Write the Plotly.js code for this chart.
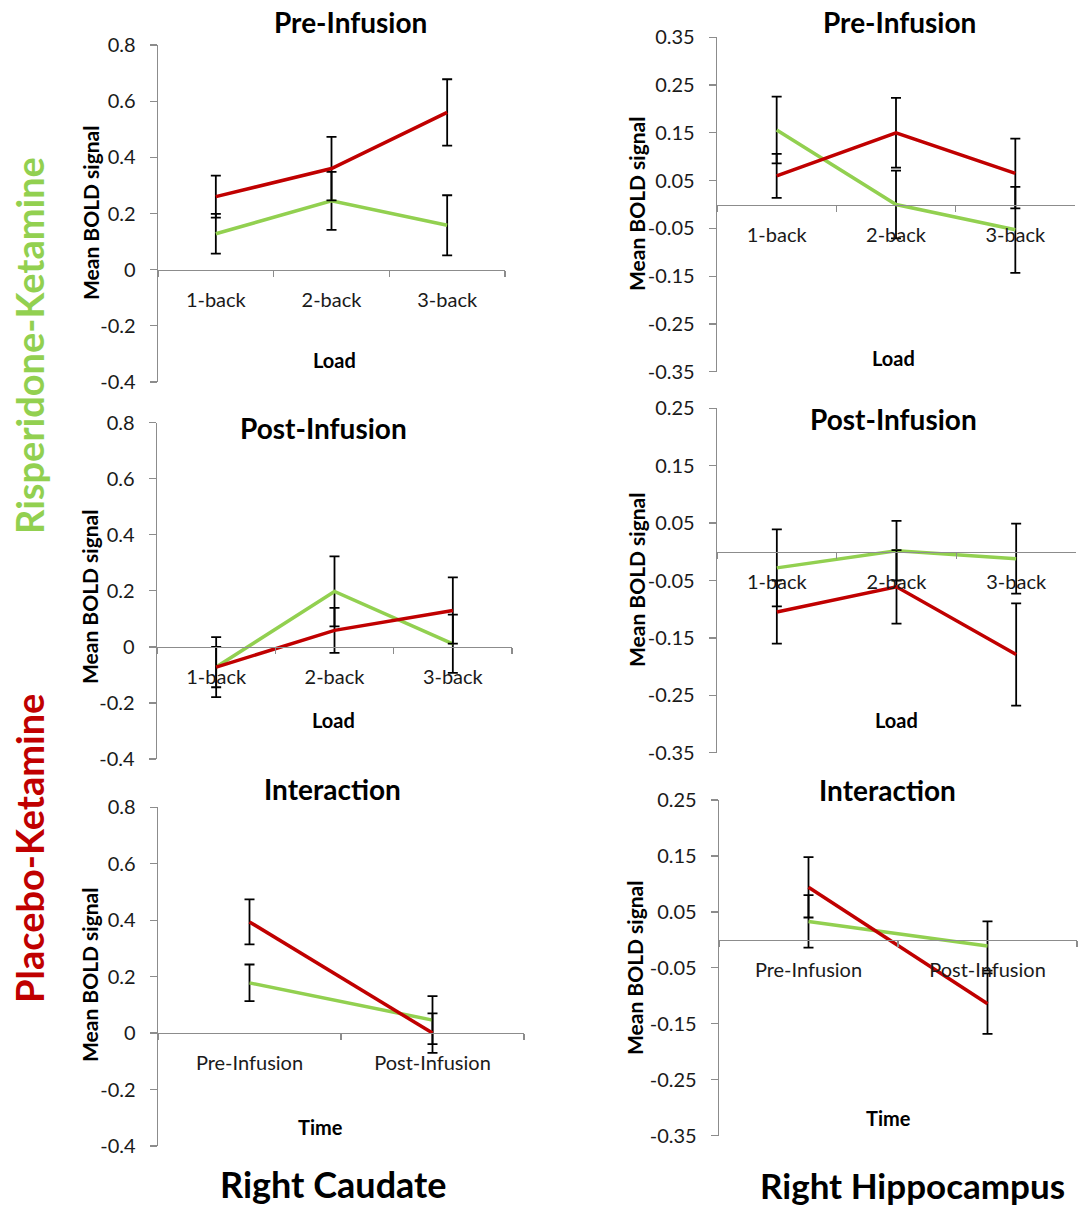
<!DOCTYPE html>
<html>
<head>
<meta charset="utf-8">
<script src="https://cdn.plot.ly/plotly-3.0.1.min.js"></script>
<style>html,body{margin:0;padding:0;background:#fff;}#chart{width:1081px;height:1209px;}</style>
</head>
<body>
<div id="chart"></div>
<script>
// ---- data ----
const loads = ['1-back', '2-back', '3-back'];
const times = ['Pre-Infusion', 'Post-Infusion'];

const caudPreRed = [0.26, 0.36, 0.56];
const caudPreRedErr = [0.075, 0.113, 0.118];
const caudPreGreen = [0.128, 0.245, 0.158];
const caudPreGreenErr = [0.071, 0.103, 0.107];

const hippPreRed = [0.060, 0.150, 0.065];
const hippPreRedErr = [0.046, 0.073, 0.073];
const hippPreGreen = [0.156, 0.0, -0.053];
const hippPreGreenErr = [0.070, 0.071, 0.090];

const caudPostRed = [-0.072, 0.059, 0.13];
const caudPostRedErr = [0.072, 0.080, 0.118];
const caudPostGreen = [-0.072, 0.198, 0.011];
const caudPostGreenErr = [0.107, 0.125, 0.104];

const hippPostRed = [-0.105, -0.061, -0.179];
const hippPostRedErr = [0.055, 0.064, 0.089];
const hippPostGreen = [-0.028, 0.002, -0.012];
const hippPostGreenErr = [0.067, 0.052, 0.061];

const caudIntRed = [0.394, 0.0];
const caudIntRedErr = [0.080, 0.070];
const caudIntGreen = [0.178, 0.046];
const caudIntGreenErr = [0.065, 0.085];

const hippIntRed = [0.094, -0.114];
const hippIntRedErr = [0.054, 0.054];
const hippIntGreen = [0.033, -0.011];
const hippIntGreenErr = [0.047, 0.044];

const caudTicks = [-0.4, -0.2, 0, 0.2, 0.4, 0.6, 0.8];
const caudTickText = ['-0.4', '-0.2', '0', '0.2', '0.4', '0.6', '0.8'];
const hippTicks1 = [-0.35, -0.25, -0.15, -0.05, 0.05, 0.15, 0.25, 0.35];
const hippTickText1 = ['-0.35', '-0.25', '-0.15', '-0.05', '0.05', '0.15', '0.25', '0.35'];
const hippTicks2 = [-0.35, -0.25, -0.15, -0.05, 0.05, 0.15, 0.25];
const hippTickText2 = ['-0.35', '-0.25', '-0.15', '-0.05', '0.05', '0.15', '0.25'];

// ---- styling / layout ----
const W = 1081, H = 1209;
const RED = '#C00000', GREEN = '#92D050', AX = '#8C8C8C';
const FONT = 'Lato, "Open Sans", sans-serif';

const panels = [
  {cats: loads, red: caudPreRed, redE: caudPreRedErr, green: caudPreGreen, greenE: caudPreGreenErr,
   box: [158, 505, 45, 382], range: [-0.4, 0.8], tv: caudTicks, tt: caudTickText,
   title: 'Pre-Infusion', tpos: [350, 22], xt: 'Load', xtpos: [334, 360], ytpos: [90, 213]},
  {cats: loads, red: hippPreRed, redE: hippPreRedErr, green: hippPreGreen, greenE: hippPreGreenErr,
   box: [717, 1075, 37.3, 371.7], range: [-0.35, 0.35], tv: hippTicks1, tt: hippTickText1,
   title: 'Pre-Infusion', tpos: [899, 22], xt: 'Load', xtpos: [893, 358], ytpos: [636, 204]},
  {cats: loads, red: caudPostRed, redE: caudPostRedErr, green: caudPostGreen, greenE: caudPostGreenErr,
   box: [157, 512, 422.7, 759], range: [-0.4, 0.8], tv: caudTicks, tt: caudTickText,
   title: 'Post-Infusion', tpos: [323, 428], xt: 'Load', xtpos: [333, 720], ytpos: [89, 597]},
  {cats: loads, red: hippPostRed, redE: hippPostRedErr, green: hippPostGreen, greenE: hippPostGreenErr,
   box: [717, 1076, 408.3, 752.7], range: [-0.35, 0.25], tv: hippTicks2, tt: hippTickText2,
   title: 'Post-Infusion', tpos: [893, 419], xt: 'Load', xtpos: [896, 720], ytpos: [636, 580]},
  {cats: times, red: caudIntRed, redE: caudIntRedErr, green: caudIntGreen, greenE: caudIntGreenErr,
   box: [158, 524, 807.3, 1146], range: [-0.4, 0.8], tv: caudTicks, tt: caudTickText,
   title: 'Interaction', tpos: [332, 789], xt: 'Time', xtpos: [320, 1127], ytpos: [90, 975]},
  {cats: times, red: hippIntRed, redE: hippIntRedErr, green: hippIntGreen, greenE: hippIntGreenErr,
   box: [719, 1077, 800, 1135.7], range: [-0.35, 0.25], tv: hippTicks2, tt: hippTickText2,
   title: 'Interaction', tpos: [887, 790], xt: 'Time', xtpos: [888, 1118], ytpos: [634, 968]}
];

const px = x => x / W;
const py = y => 1 - y / H;

const data = [];
const layout = {
  width: W, height: H,
  margin: {l: 0, r: 0, t: 0, b: 0},
  paper_bgcolor: '#fff', plot_bgcolor: 'rgba(0,0,0,0)',
  showlegend: false,
  font: {family: FONT, color: '#1a1a1a', size: 20},
  annotations: []
};

panels.forEach((p, i) => {
  const n = i + 1;
  const xa = 'x' + (n === 1 ? '' : n), ya = 'y' + (n === 1 ? '' : n);
  const xk = 'xaxis' + (n === 1 ? '' : n), yk = 'yaxis' + (n === 1 ? '' : n);
  const [x0, x1, yTop, yBot] = p.box;
  const zeroPix = yTop + (p.range[1] / (p.range[1] - p.range[0])) * (yBot - yTop);

  const eb = arr => ({type: 'data', array: arr, visible: true, color: '#000', thickness: 1.8, width: 5});
  data.push({x: p.cats, y: p.green, xaxis: xa, yaxis: ya, type: 'scatter', mode: 'lines',
    line: {color: GREEN, width: 3.5}, error_y: eb(p.greenE), hoverinfo: 'skip'});
  data.push({x: p.cats, y: p.red, xaxis: xa, yaxis: ya, type: 'scatter', mode: 'lines',
    line: {color: RED, width: 3.5}, error_y: eb(p.redE), hoverinfo: 'skip'});

  layout[xk] = {
    domain: [px(x0), px(x1)], anchor: 'free', position: py(zeroPix),
    type: 'category', categoryarray: p.cats, range: [-0.5, p.cats.length - 0.5],
    tickson: 'boundaries', ticks: 'outside', ticklen: 6, tickcolor: AX, tickwidth: 1.3,
    showline: true, linecolor: AX, linewidth: 1.3, showgrid: false, zeroline: false,
    ticklabelstandoff: 12, tickfont: {family: FONT, size: 20, color: '#1a1a1a'}, fixedrange: true
  };
  layout[yk] = {
    domain: [py(yBot), py(yTop)], anchor: xa, range: p.range,
    tickmode: 'array', tickvals: p.tv, ticktext: p.tt,
    ticks: 'outside', ticklen: 7, tickcolor: AX, tickwidth: 1.3,
    showline: true, linecolor: AX, linewidth: 1.3, showgrid: false, zeroline: false,
    ticklabelstandoff: 10, tickfont: {family: FONT, size: 20, color: '#1a1a1a'}, fixedrange: true
  };

  layout.annotations.push({xref: 'paper', yref: 'paper', x: px(p.tpos[0]), y: py(p.tpos[1]),
    xanchor: 'center', yanchor: 'middle', showarrow: false, text: '<b>' + p.title + '</b>',
    font: {family: FONT, size: 28, color: '#000'}});
  layout.annotations.push({xref: 'paper', yref: 'paper', x: px(p.xtpos[0]), y: py(p.xtpos[1]),
    xanchor: 'center', yanchor: 'middle', showarrow: false, text: '<b>' + p.xt + '</b>',
    font: {family: FONT, size: 20, color: '#000'}});
  layout.annotations.push({xref: 'paper', yref: 'paper', x: px(p.ytpos[0]), y: py(p.ytpos[1]),
    xanchor: 'center', yanchor: 'middle', showarrow: false, textangle: -90,
    text: '<b>Mean BOLD signal</b>', font: {family: FONT, size: 21, color: '#000'}});
});

// big labels
layout.annotations.push({xref: 'paper', yref: 'paper', x: px(333), y: py(1184), xanchor: 'center', yanchor: 'middle',
  showarrow: false, text: '<b>Right Caudate</b>', font: {family: FONT, size: 36, color: '#000'}});
layout.annotations.push({xref: 'paper', yref: 'paper', x: px(1066), y: py(1185), xanchor: 'right', yanchor: 'middle',
  showarrow: false, borderpad: 0, text: '<b>Right Hippocampus</b>', font: {family: FONT, size: 35, color: '#000'}});
layout.annotations.push({xref: 'paper', yref: 'paper', x: px(29), y: py(346), xanchor: 'center', yanchor: 'middle',
  showarrow: false, textangle: -90, text: '<b>Risperidone-Ketamine</b>', font: {family: FONT, size: 38, color: GREEN}});
layout.annotations.push({xref: 'paper', yref: 'paper', x: px(29), y: py(849), xanchor: 'center', yanchor: 'middle',
  showarrow: false, textangle: -90, text: '<b>Placebo-Ketamine</b>', font: {family: FONT, size: 38, color: RED}});

Plotly.newPlot('chart', data, layout, {staticPlot: true, displayModeBar: false});
</script>
</body>
</html>
